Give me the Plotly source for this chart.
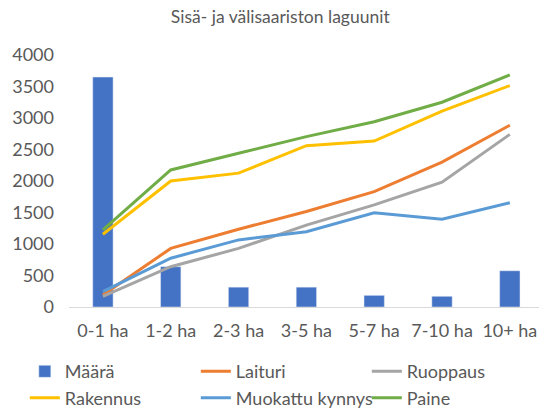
import plotly.graph_objects as go

categories = ["0-1 ha", "1-2 ha", "2-3 ha", "3-5 ha", "5-7 ha", "7-10 ha", "10+ ha"]
maara = [3650, 640, 315, 315, 185, 170, 575]
laituri = [190, 930, 1235, 1515, 1830, 2300, 2885]
ruoppaus = [170, 640, 930, 1300, 1620, 1980, 2740]
rakennus = [1155, 2000, 2125, 2560, 2635, 3110, 3515]
muokattu = [245, 775, 1065, 1195, 1495, 1395, 1655]
paine = [1225, 2175, 2440, 2705, 2940, 3250, 3685]
y_ticks = [0, 500, 1000, 1500, 2000, 2500, 3000, 3500, 4000]

FONT = "Lato"
GRAY = "#595959"

fig = go.Figure()
fig.add_trace(go.Bar(x=categories, y=maara, name="Määrä", marker_color="#4472C4", width=0.3))
lines = [("Laituri", laituri, "#ED7D31"), ("Ruoppaus", ruoppaus, "#A5A5A5"),
         ("Rakennus", rakennus, "#FFC000"), ("Muokattu kynnys", muokattu, "#5B9BD5"),
         ("Paine", paine, "#70AD47")]
for name, vals, col in lines:
    fig.add_trace(go.Scatter(x=categories, y=vals, name=name, mode="lines",
                             line=dict(color=col, width=3)))

fig.update_layout(
    width=539, height=410,
    margin=dict(l=69, r=0, t=55, b=103, autoexpand=False),
    paper_bgcolor="white", plot_bgcolor="white",
    font=dict(family=FONT, color=GRAY, size=18),
    title=dict(text="Sisä- ja välisaariston laguunit", x=0.52, xanchor="center",
               y=0.96, yanchor="middle", font=dict(size=17.5, color=GRAY, family=FONT)),
    xaxis=dict(range=[-0.5, 6.43], showgrid=False, showline=False, zeroline=False,
               tickfont=dict(size=18, color=GRAY), ticks="", ticklabelstandoff=11),
    yaxis=dict(range=[0, 4000], tickvals=y_ticks, showgrid=False, zeroline=True,
               zerolinecolor="#D9D9D9", zerolinewidth=1, showline=False,
               tickfont=dict(size=18, color=GRAY), ticks="", ticklabelstandoff=14),
    legend=dict(orientation="h", x=-0.094, xanchor="left", y=-0.183, yanchor="top",
                entrywidth=126, entrywidthmode="pixels", font=dict(size=18, color=GRAY),
                itemwidth=30, tracegroupgap=0, traceorder="normal"),
    showlegend=True,
)

fig.write_html("out.html", config={"displayModeBar": False},
               post_script="document.body.style.margin='0';")
